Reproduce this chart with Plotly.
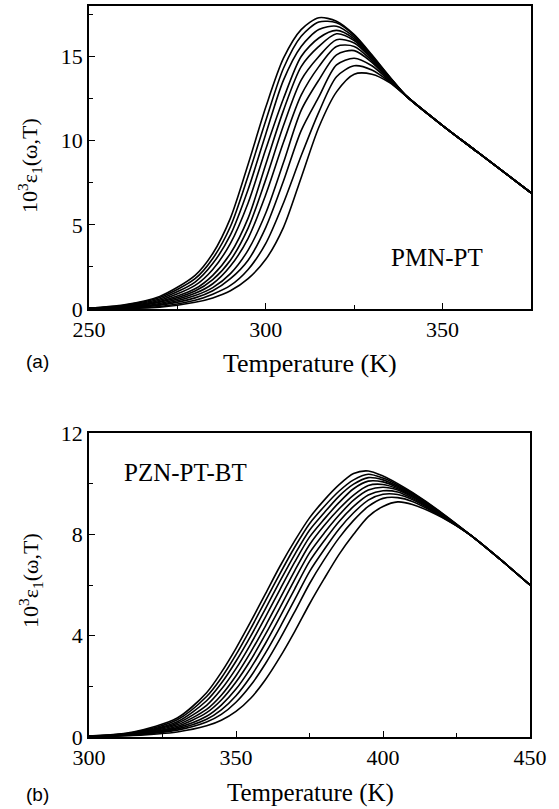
import plotly.graph_objects as go

W, H = 559, 809

# ---------------- panel (a) PMN-PT ----------------
temp_a = [250, 260, 270, 280, 285, 290, 295, 300, 305, 310, 315, 320, 325, 330, 335, 340, 350, 360, 375]
eps_a_0 = [0.05, 0.25, 0.75, 2.0, 3.3, 5.4, 8.6, 12.0, 14.9, 16.6, 17.3, 17.1, 16.3, 15.1, 13.8, 12.6, 10.9, 9.3, 6.9]
eps_a_1 = [0.04, 0.22, 0.68, 1.8, 3.0, 4.9, 7.9, 11.2, 14.3, 16.2, 17.05, 17.0, 16.25, 15.05, 13.8, 12.6, 10.9, 9.3, 6.9]
eps_a_2 = [0.04, 0.19, 0.6, 1.6, 2.7, 4.4, 7.1, 10.4, 13.6, 15.6, 16.6, 16.8, 16.15, 15.0, 13.75, 12.6, 10.9, 9.3, 6.9]
eps_a_3 = [0.035, 0.15, 0.52, 1.4, 2.35, 3.9, 6.3, 9.5, 12.5, 15.0, 16.1, 16.55, 16.05, 14.95, 13.75, 12.6, 10.9, 9.3, 6.9]
eps_a_4 = [0.03, 0.12, 0.45, 1.2, 2.0, 3.3, 5.4, 8.6, 11.8, 14.4, 15.6, 16.35, 15.95, 14.9, 13.7, 12.6, 10.9, 9.3, 6.9]
eps_a_5 = [0.03, 0.10, 0.40, 1.07, 1.75, 2.9, 4.8, 7.7, 10.9, 13.6, 15.0, 16.0, 15.8, 14.85, 13.7, 12.6, 10.9, 9.3, 6.9]
eps_a_6 = [0.025, 0.08, 0.33, 0.93, 1.5, 2.55, 4.2, 6.8, 9.9, 12.7, 14.4, 15.6, 15.6, 14.75, 13.65, 12.6, 10.9, 9.3, 6.9]
eps_a_7 = [0.02, 0.06, 0.27, 0.8, 1.27, 2.1, 3.5, 5.7, 8.7, 11.8, 13.6, 15.1, 15.35, 14.65, 13.6, 12.6, 10.9, 9.3, 6.9]
eps_a_8 = [0.02, 0.05, 0.22, 0.66, 1.08, 1.8, 2.9, 4.85, 7.6, 10.6, 12.6, 14.5, 14.9, 14.45, 13.55, 12.6, 10.9, 9.3, 6.9]
eps_a_9 = [0.02, 0.04, 0.15, 0.52, 0.88, 1.4, 2.35, 3.9, 6.3, 9.1, 11.7, 13.8, 14.45, 14.2, 13.5, 12.6, 10.9, 9.3, 6.9]
eps_a_10 = [0.02, 0.03, 0.10, 0.40, 0.66, 1.08, 1.8, 2.95, 4.85, 7.8, 10.8, 12.9, 13.95, 13.95, 13.45, 12.6, 10.9, 9.3, 6.9]
series_a = [eps_a_0, eps_a_1, eps_a_2, eps_a_3, eps_a_4, eps_a_5, eps_a_6, eps_a_7, eps_a_8, eps_a_9, eps_a_10]

# ---------------- panel (b) PZN-PT-BT ----------------
temp_b = [300, 315, 330, 340, 345, 350, 355, 360, 365, 370, 375, 380, 385, 390, 395, 400, 405, 410, 420, 430, 440, 450]
eps_b_0 = [0.04, 0.2, 0.75, 1.75, 2.55, 3.5, 4.55, 5.65, 6.75, 7.75, 8.65, 9.35, 9.95, 10.4, 10.5, 10.3, 10.0, 9.65, 8.85, 7.95, 7.0, 6.0]
eps_b_1 = [0.035, 0.18, 0.68, 1.6, 2.33, 3.25, 4.28, 5.37, 6.46, 7.5, 8.42, 9.1, 9.7, 10.15, 10.37, 10.22, 9.95, 9.62, 8.83, 7.95, 7.0, 6.0]
eps_b_2 = [0.03, 0.16, 0.6, 1.43, 2.12, 2.99, 3.98, 5.06, 6.16, 7.21, 8.16, 8.85, 9.5, 9.98, 10.24, 10.15, 9.9, 9.59, 8.81, 7.95, 7.0, 6.0]
eps_b_3 = [0.025, 0.14, 0.54, 1.25, 1.88, 2.7, 3.67, 4.73, 5.83, 6.91, 7.89, 8.6, 9.25, 9.8, 10.1, 10.07, 9.85, 9.55, 8.79, 7.95, 7.0, 6.0]
eps_b_4 = [0.02, 0.12, 0.48, 1.09, 1.65, 2.42, 3.35, 4.38, 5.47, 6.57, 7.59, 8.35, 9.0, 9.55, 9.93, 9.97, 9.8, 9.51, 8.77, 7.95, 7.0, 6.0]
eps_b_5 = [0.02, 0.11, 0.42, 0.96, 1.46, 2.17, 3.04, 4.05, 5.12, 6.22, 7.27, 8.05, 8.75, 9.35, 9.75, 9.86, 9.75, 9.47, 8.75, 7.95, 7.0, 6.0]
eps_b_6 = [0.015, 0.1, 0.37, 0.82, 1.26, 1.89, 2.72, 3.69, 4.75, 5.85, 6.93, 7.75, 8.5, 9.1, 9.55, 9.72, 9.67, 9.42, 8.73, 7.95, 7.0, 6.0]
eps_b_7 = [0.015, 0.09, 0.32, 0.7, 1.07, 1.63, 2.39, 3.31, 4.34, 5.43, 6.53, 7.4, 8.2, 8.85, 9.35, 9.58, 9.57, 9.37, 8.71, 7.95, 7.0, 6.0]
eps_b_8 = [0.01, 0.08, 0.27, 0.59, 0.89, 1.37, 2.04, 2.89, 3.88, 4.95, 6.05, 7.0, 7.85, 8.55, 9.1, 9.42, 9.45, 9.3, 8.69, 7.95, 7.0, 6.0]
eps_b_9 = [0.01, 0.06, 0.2, 0.44, 0.66, 1.01, 1.53, 2.26, 3.16, 4.17, 5.25, 6.25, 7.2, 8.0, 8.7, 9.1, 9.28, 9.18, 8.67, 7.95, 7.0, 6.0]
series_b = [eps_b_0, eps_b_1, eps_b_2, eps_b_3, eps_b_4, eps_b_5, eps_b_6, eps_b_7, eps_b_8, eps_b_9]

xticks_a = [250, 300, 350]
yticks_a = [0, 5, 10, 15]
xticks_b = [300, 350, 400, 450]
yticks_b = [0, 4, 8, 12]

SERIF = "Liberation Serif"
SANS = "Liberation Sans"

fig = go.Figure()
for ys in series_a:
    fig.add_trace(go.Scatter(x=temp_a, y=ys, mode="lines", xaxis="x", yaxis="y",
                             line=dict(color="black", width=1.6, shape="spline", smoothing=0.8),
                             showlegend=False, hoverinfo="skip"))
for ys in series_b:
    fig.add_trace(go.Scatter(x=temp_b, y=ys, mode="lines", xaxis="x2", yaxis="y2",
                             line=dict(color="black", width=1.6, shape="spline", smoothing=0.8),
                             showlegend=False, hoverinfo="skip"))

def px(x):
    return x / W

def py(y):
    return 1 - y / H

axis_common = dict(showgrid=False, zeroline=False, showline=True, linecolor="black", linewidth=1.5,
                   mirror=True, ticks="inside", ticklen=6, tickwidth=1.2, tickcolor="black",
                   automargin=False,
                   tickfont=dict(family=SERIF, size=22, color="black"))

fig.update_layout(
    width=W, height=H,
    font=dict(family=SERIF, color="black"),
    margin=dict(l=0, r=0, t=0, b=0, autoexpand=False),
    paper_bgcolor="white", plot_bgcolor="white",
    xaxis=dict(domain=[px(89), px(531)], anchor="y", range=[250, 375], tickvals=xticks_a,
               minor=dict(dtick=25, tick0=250, ticks="inside", ticklen=4, tickcolor="black"), **axis_common),
    yaxis=dict(domain=[py(309), py(6)], anchor="x", range=[0, 18], tickvals=yticks_a,
               minor=dict(dtick=2.5, tick0=0, ticks="inside", ticklen=4, tickcolor="black"), **axis_common),
    xaxis2=dict(domain=[px(89), px(530)], anchor="y2", range=[300, 450], tickvals=xticks_b,
                minor=dict(dtick=25, tick0=300, ticks="inside", ticklen=4, tickcolor="black"), **axis_common),
    yaxis2=dict(domain=[py(737), py(433)], anchor="x2", range=[0, 12], tickvals=yticks_b,
                minor=dict(dtick=2, tick0=0, ticks="inside", ticklen=4, tickcolor="black"), **axis_common),
)

ytitle = "10<sup>3</sup>ε<sub>1</sub>(ω,T)"
annots = [
    dict(text="Temperature (K)", x=px(310), y=py(364), font=dict(family=SERIF, size=26)),
    dict(text="Temperature (K)", x=px(310), y=py(793), font=dict(family=SERIF, size=25)),
    dict(text=ytitle, x=px(30), y=py(166), textangle=-90, font=dict(family=SERIF, size=22)),
    dict(text=ytitle, x=px(30), y=py(581), textangle=-90, font=dict(family=SERIF, size=22)),
    dict(text="(a)", x=px(37), y=py(361), font=dict(family=SANS, size=19)),
    dict(text="(b)", x=px(37), y=py(794), font=dict(family=SANS, size=19)),
    dict(text="PMN-PT", x=px(437), y=py(257), font=dict(family=SERIF, size=25)),
    dict(text="PZN-PT-BT", x=px(185), y=py(473), font=dict(family=SERIF, size=25)),
]
for a in annots:
    a.update(xref="paper", yref="paper", showarrow=False, xanchor="center", yanchor="middle")
    a["font"]["color"] = "black"
    fig.add_annotation(**a)

fig.write_html("out.html",
               config={"displayModeBar": False},
               post_script="document.body.style.margin='0';document.body.style.padding='0';"
                           "document.documentElement.style.overflow='hidden';")
